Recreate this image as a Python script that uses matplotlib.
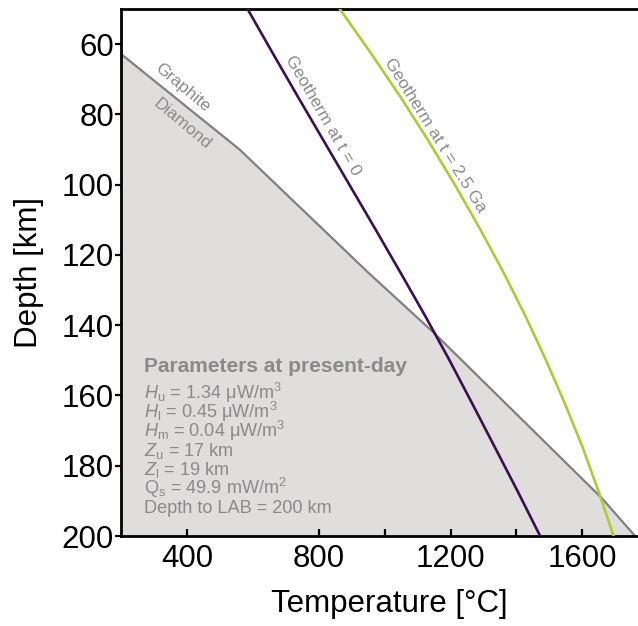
import matplotlib
matplotlib.use("Agg")
import matplotlib.pyplot as plt

# depth samples (km) for the two geotherms
depth_km = [50, 62.5, 75, 87.5, 100, 112.5, 125, 137.5, 150, 162.5, 175, 187.5, 200]
geotherm_t0 = [584, 660, 737, 815, 893, 971, 1048, 1124, 1197, 1267, 1336, 1405, 1472]
geotherm_25ga = [864, 958, 1048, 1133, 1213, 1289, 1361, 1428, 1490, 1548, 1602, 1650, 1695]

# graphite-diamond transition
gd_temp = [200, 560, 950, 1150, 1660, 1760]
gd_depth = [62.8, 90, 125, 142.2, 189.3, 200]

param_title = "Parameters at present-day"
param_lines = [
    r"$H_\mathrm{u}$ = 1.34 μW/m$^\mathrm{3}$",
    r"$H_\mathrm{l}$ = 0.45 μW/m$^\mathrm{3}$",
    r"$H_\mathrm{m}$ = 0.04 μW/m$^\mathrm{3}$",
    r"$Z_\mathrm{u}$ = 17 km",
    r"$Z_\mathrm{l}$ = 19 km",
    r"Q$_\mathrm{s}$ = 49.9 mW/m$^\mathrm{2}$",
    "Depth to LAB = 200 km",
]

plt.rcParams["font.family"] = ["Liberation Sans", "DejaVu Sans"]
plt.rcParams["mathtext.fontset"] = "custom"
plt.rcParams["mathtext.rm"] = "Liberation Sans"
plt.rcParams["mathtext.it"] = "Liberation Sans:italic"
plt.rcParams["mathtext.bf"] = "Liberation Sans:bold"

grey_txt = "#8a8a8a"

fig = plt.figure(figsize=(6.38, 6.26), dpi=100)
ax = fig.add_axes([121 / 638, 1 - 536 / 626, 517 / 638, 527 / 626])

ax.fill_between(gd_temp, gd_depth, 200, color="#dfdedd", lw=0, zorder=1)
ax.plot(gd_temp, gd_depth, color="#808080", lw=1.6, zorder=2)
ax.plot(geotherm_t0, depth_km, color="#3b1052", lw=1.9, zorder=3)
ax.plot(geotherm_25ga, depth_km, color="#a6ce36", lw=1.9, zorder=3)

ax.text(387, 72.3, "Graphite", rotation=-40, ha="center", va="center",
        rotation_mode="anchor", color=grey_txt, fontsize=12.5)
ax.text(384.5, 82.7, "Diamond", rotation=-40, ha="center", va="center",
        rotation_mode="anchor", color=grey_txt, fontsize=12.5)
ax.text(812, 80.2, "Geotherm at t = 0", rotation=-60, ha="center", va="center",
        rotation_mode="anchor", color=grey_txt, fontsize=12.5)
ax.text(1153, 85.9, "Geotherm at t = 2.5 Ga", rotation=-58, ha="center",
        va="center", rotation_mode="anchor", color=grey_txt, fontsize=12.5)

ax.text(269, 153.2, param_title, fontsize=15, fontweight="bold",
        color=grey_txt, va="baseline", ha="left")
for i, line in enumerate(param_lines):
    ax.text(269, 161.1 + 5.38 * i, line, fontsize=13.1, color=grey_txt,
            va="baseline", ha="left")

ax.set_xlim(200, 1769)
ax.set_ylim(200, 50)
ax.set_xticks([400, 800, 1200, 1600])
ax.set_xticks([1000, 1400], minor=True)
ax.set_yticks(range(60, 201, 20))

for side in ["left", "bottom", "top"]:
    ax.spines[side].set_linewidth(2.0)
ax.spines["right"].set_visible(False)

ax.tick_params(axis="x", which="both", direction="in", length=5, width=1.6,
               labelsize=22.5, pad=6)
ax.tick_params(axis="y", direction="out", length=4.5, width=1.6,
               labelsize=22.5, pad=0.5)

ax.set_xlabel("Temperature [°C]", fontsize=22.5)
ax.set_ylabel("Depth [km]", fontsize=22.5)
ax.xaxis.set_label_coords((389 - 121) / 517, -(604 - 536) / 527)
ax.yaxis.set_label_coords(-(121 - 29) / 517, 0.5)
ax.yaxis.label.set_va("center")
ax.xaxis.label.set_va("center")

fig.savefig("out.png", dpi=100)
